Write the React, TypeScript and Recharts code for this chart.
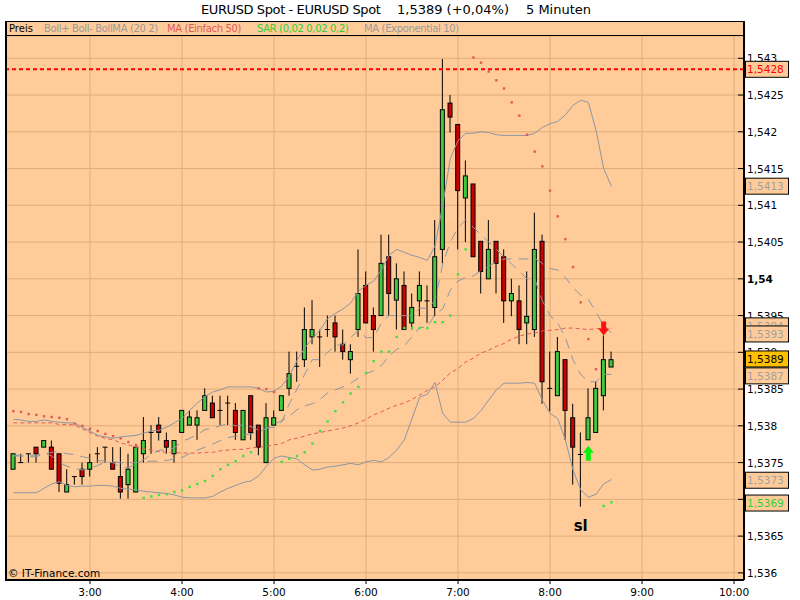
import React from 'react';
import {
  ComposedChart, XAxis, YAxis, CartesianGrid, Bar, Line, ReferenceLine, ReferenceDot,
} from 'recharts';

const FONT = '"DejaVu Sans", Verdana, sans-serif';
const BG = '#FFCC99';
const GRID = '#DFAC7A';
const GRAY = '#8C96A4';
const MA_RED = '#E05A5A';
const UP = '#3FC93F';
const DOWN = '#CC0000';

// 5-minute candles, minutes after midnight (2:10 .. 8:40)
const times = [
  130, 135, 140, 145, 150, 155, 160, 165, 170, 175,
  180, 185, 190, 195, 200, 205, 210, 215, 220, 225,
  230, 235, 240, 245, 250, 255, 260, 265, 270, 275,
  280, 285, 290, 295, 300, 305, 310, 315, 320, 325,
  330, 335, 340, 345, 350, 355, 360, 365, 370, 375,
  380, 385, 390, 395, 400, 405, 410, 415, 420, 425,
  430, 435, 440, 445, 450, 455, 460, 465, 470, 475,
  480, 485, 490, 495, 500, 505, 510, 515, 520,
];

const open = [
  1.53741, 1.5375, 1.53762, 1.53771, 1.53771, 1.53771, 1.53762, 1.5371, 1.53731, 1.53741,
  1.53741, 1.53762, 1.53771, 1.5375, 1.53731, 1.5372, 1.5371, 1.53762, 1.53791, 1.53801,
  1.5378, 1.53762, 1.53791, 1.53801, 1.53801, 1.53821, 1.53831, 1.53821, 1.53831, 1.53821,
  1.53781, 1.53841, 1.53801, 1.5375, 1.53801, 1.53821, 1.53851, 1.53881, 1.5389, 1.53921,
  1.53921, 1.53931, 1.5394, 1.53911, 1.5389, 1.53931, 1.53991, 1.5395, 1.5395, 1.5403,
  1.53971, 1.53991, 1.5394, 1.5397, 1.5397, 1.53961, 1.5404, 1.54239, 1.5421, 1.5411,
  1.54129, 1.54051, 1.54, 1.54051, 1.5403, 1.5397, 1.5397, 1.5394, 1.53931, 1.54051,
  1.53851, 1.53841, 1.5389, 1.53811, 1.53761, 1.53781, 1.53791, 1.53841, 1.5388,
];
const high = [
  1.53762, 1.53762, 1.53762, 1.53771, 1.5378, 1.5378, 1.53762, 1.53741, 1.53731, 1.5375,
  1.53762, 1.53771, 1.53771, 1.53771, 1.53771, 1.53762, 1.53771, 1.53812, 1.53801, 1.53812,
  1.53791, 1.5378, 1.53821, 1.53821, 1.53821, 1.53851, 1.53841, 1.53841, 1.53841, 1.53831,
  1.53821, 1.53841, 1.53801, 1.53831, 1.53821, 1.53841, 1.53901, 1.53901, 1.53961, 1.53971,
  1.53931, 1.5395, 1.5395, 1.53931, 1.53911, 1.5404, 1.5401, 1.53961, 1.5406, 1.5406,
  1.54021, 1.5401, 1.5398, 1.5401, 1.53991, 1.5408, 1.54299, 1.5425, 1.5421, 1.54161,
  1.54129, 1.54051, 1.5408, 1.54051, 1.5404, 1.54, 1.53991, 1.5401, 1.5409, 1.5406,
  1.53901, 1.53921, 1.5389, 1.5383, 1.53791, 1.53851, 1.5386, 1.53923, 1.53901,
];
const low = [
  1.53741, 1.5375, 1.5375, 1.5375, 1.53771, 1.53741, 1.5371, 1.5371, 1.5372, 1.5372,
  1.53731, 1.5375, 1.5375, 1.53741, 1.53701, 1.53701, 1.5371, 1.5375, 1.53762, 1.5378,
  1.53762, 1.5375, 1.53791, 1.53801, 1.53781, 1.53821, 1.53811, 1.53801, 1.53801, 1.53781,
  1.53781, 1.53781, 1.5376, 1.5375, 1.53801, 1.53821, 1.53841, 1.5386, 1.5388, 1.53911,
  1.5388, 1.53921, 1.53901, 1.5389, 1.53871, 1.53921, 1.5394, 1.53901, 1.5395, 1.5395,
  1.53931, 1.53931, 1.53931, 1.53949, 1.5394, 1.53949, 1.54021, 1.54199, 1.5404, 1.5405,
  1.5403, 1.5398, 1.54, 1.5398, 1.5394, 1.53949, 1.53911, 1.53911, 1.53921, 1.5383,
  1.5382, 1.53841, 1.53781, 1.5372, 1.5369, 1.53781, 1.53791, 1.53821, 1.5388,
];
const close = [
  1.53762, 1.5375, 1.53762, 1.53762, 1.5378, 1.53741, 1.53722, 1.5372, 1.53731, 1.53731,
  1.5375, 1.53762, 1.53771, 1.53741, 1.5371, 1.53741, 1.53771, 1.5378, 1.53791, 1.53791,
  1.53771, 1.5378, 1.53821, 1.53812, 1.53811, 1.53841, 1.53811, 1.53821, 1.53831, 1.53791,
  1.53821, 1.53791, 1.53771, 1.53811, 1.53811, 1.53841, 1.53871, 1.53881, 1.53931, 1.53931,
  1.53921, 1.53931, 1.53921, 1.53901, 1.53901, 1.5398, 1.5394, 1.53931, 1.54021, 1.5398,
  1.54, 1.53931, 1.53961, 1.53991, 1.5397, 1.5403, 1.5423, 1.5422, 1.5412, 1.5414,
  1.5403, 1.5401, 1.5404, 1.54021, 1.5397, 1.5398, 1.53931, 1.53949, 1.5404, 1.5386,
  1.53851, 1.53901, 1.53821, 1.53771, 1.53761, 1.53811, 1.53851, 1.5389, 1.5389,
];

const bollUpper = [
  1.53809, 1.53808, 1.53806, 1.53806, 1.53808, 1.53806, 1.53805, 1.53804, 1.53804, 1.53798,
  1.53793, 1.53787, 1.53785, 1.53783, 1.53785, 1.53786, 1.53787, 1.5379, 1.53793, 1.53794,
  1.53798, 1.53804, 1.5381, 1.53821, 1.53831, 1.5384, 1.53846, 1.53849, 1.53853, 1.53853,
  1.53853, 1.53853, 1.53851, 1.53846, 1.53847, 1.53854, 1.53868, 1.53889, 1.53906, 1.53919,
  1.5393, 1.53946, 1.53953, 1.53959, 1.53967, 1.53983, 1.53991, 1.53997, 1.54012, 1.54032,
  1.5404, 1.54036, 1.54032, 1.54029, 1.54025, 1.54045, 1.541, 1.54164, 1.54188, 1.54198,
  1.54198, 1.542, 1.54199, 1.54196, 1.54195, 1.54195, 1.54195, 1.54195, 1.54198, 1.54206,
  1.54211, 1.54214, 1.54223, 1.54236, 1.54243, 1.5424, 1.54202, 1.5415, 1.54126,
];
const bollLower = [
  1.53709, 1.53709, 1.53709, 1.53709, 1.53715, 1.53721, 1.53724, 1.53719, 1.53717, 1.53718,
  1.53718, 1.53719, 1.53719, 1.53718, 1.53715, 1.53714, 1.53713, 1.53711, 1.5371, 1.53709,
  1.53708, 1.53706, 1.53703, 1.53702, 1.53702, 1.53702, 1.53704, 1.5371, 1.53715, 1.53719,
  1.53723, 1.53725, 1.53732, 1.53745, 1.53756, 1.53759, 1.53757, 1.53755, 1.53747, 1.5374,
  1.53741, 1.53744, 1.53745, 1.53747, 1.53749, 1.53747, 1.53751, 1.53753, 1.53751, 1.53757,
  1.53767, 1.53781, 1.5381, 1.53839, 1.53843, 1.53859, 1.53817, 1.53805, 1.53805, 1.53805,
  1.5381, 1.53821, 1.53835, 1.53849, 1.53858, 1.53858, 1.53858, 1.53859, 1.53858, 1.53835,
  1.53817, 1.5381, 1.53781, 1.5374, 1.53713, 1.53703, 1.53707, 1.53721, 1.53727,
];
const bollMid = [
  1.53759, 1.53759, 1.53758, 1.53758, 1.53762, 1.53764, 1.53765, 1.53762, 1.53761, 1.53758,
  1.53756, 1.53753, 1.53752, 1.53751, 1.5375, 1.5375, 1.5375, 1.53751, 1.53752, 1.53752,
  1.53753, 1.53755, 1.53757, 1.53762, 1.53767, 1.53771, 1.53775, 1.5378, 1.53784, 1.53786,
  1.53788, 1.53789, 1.53792, 1.53796, 1.53802, 1.53807, 1.53813, 1.53822, 1.53827, 1.5383,
  1.53836, 1.53845, 1.53849, 1.53853, 1.53858, 1.53865, 1.53871, 1.53875, 1.53882, 1.53895,
  1.53904, 1.53909, 1.53921, 1.53934, 1.53934, 1.53952, 1.53959, 1.53985, 1.53997, 1.54002,
  1.54004, 1.54011, 1.54017, 1.54023, 1.54027, 1.54027, 1.54027, 1.54027, 1.54028, 1.54021,
  1.54014, 1.54012, 1.54002, 1.53988, 1.53978, 1.53972, 1.53955, 1.53936, 1.53927,
];
const ma50 = [
  1.53804, 1.53804, 1.53804, 1.53804, 1.53804, 1.53804, 1.53802, 1.53802, 1.53801, 1.53796,
  1.53791, 1.53786, 1.53783, 1.53781, 1.53777, 1.53774, 1.53771, 1.53769, 1.53767, 1.53765,
  1.53764, 1.53764, 1.53763, 1.53763, 1.53763, 1.53764, 1.53764, 1.53766, 1.53767, 1.53768,
  1.53768, 1.5377, 1.53771, 1.53772, 1.53774, 1.53776, 1.53781, 1.53783, 1.53786, 1.53789,
  1.53791, 1.53793, 1.53795, 1.53797, 1.538, 1.53804, 1.53809, 1.53815, 1.53819, 1.53824,
  1.53828, 1.53831, 1.53836, 1.53842, 1.53848, 1.53853, 1.53862, 1.53872, 1.53878, 1.53887,
  1.53892, 1.53899, 1.53903, 1.53908, 1.53912, 1.53918, 1.53922, 1.53925, 1.53926, 1.53929,
  1.5393, 1.53931, 1.53933, 1.53933, 1.53932, 1.53931, 1.53932, 1.53933, 1.53933,
];
const ema10 = [
  1.5376, 1.5376, 1.5376, 1.5376, 1.53763, 1.53759, 1.5375, 1.53745, 1.53742, 1.5374,
  1.53742, 1.53746, 1.53751, 1.5375, 1.53743, 1.53743, 1.53748, 1.53754, 1.53761, 1.53767,
  1.53767, 1.5377, 1.53779, 1.53783, 1.53788, 1.53795, 1.53797, 1.538, 1.53803, 1.538,
  1.53801, 1.53799, 1.53794, 1.53797, 1.53798, 1.53805, 1.5383, 1.5385, 1.5387, 1.5389,
  1.5389, 1.539, 1.5391, 1.5391, 1.5392, 1.5393, 1.5392, 1.5392, 1.5394, 1.5395,
  1.5395, 1.5395, 1.5395, 1.5396, 1.5396, 1.5397, 1.5402, 1.5405, 1.5407, 1.5408,
  1.5407, 1.5406, 1.5405, 1.5404, 1.5403, 1.5402, 1.5401, 1.54, 1.54, 1.5397,
  1.5395, 1.5394, 1.5392, 1.5389, 1.5387, 1.5386, 1.5386, 1.5387, 1.5387,
];

const gap = (n: number) => Array(n).fill(null);
// parabolic SAR above price (red) and below price (green)
const sarAbove = [
  1.5382, 1.53819, 1.53816, 1.53815, 1.53813, 1.53812, 1.53811, 1.53809, 1.53803, 1.538,
  1.53796, 1.53793, 1.53789, 1.53786, 1.53783, 1.53778, 1.53774,
  ...gap(15),
  1.53851, 1.5385, 1.53846,
  ...gap(25),
  1.54301, 1.54294, 1.54282, 1.5427, 1.54259, 1.5424, 1.54222, 1.54196, 1.54173, 1.54153,
  1.5412, 1.54085, 1.54054, 1.54016, 1.53968, 1.53918, 1.53877,
  ...gap(2),
];
const sarBelow = [
  ...gap(17),
  1.53702, 1.53704, 1.53706, 1.53707, 1.5371, 1.53712, 1.53717, 1.53721, 1.53725, 1.53732,
  1.53741, 1.53747, 1.53752, 1.53759, 1.53764,
  ...gap(3),
  1.53751, 1.53755, 1.53759, 1.53764, 1.53776, 1.53793, 1.53806, 1.5382, 1.53832, 1.53844,
  1.53853, 1.53872, 1.53888, 1.53901, 1.53901, 1.53921, 1.53933, 1.53933, 1.53933, 1.53933,
  1.53941, 1.53941, 1.5395, 1.54006, 1.5404,
  ...gap(17),
  1.53691, 1.53696,
];

const hourTicks = [180, 240, 300, 360, 420, 480, 540, 600];
const priceTicks = [
  1.536, 1.5365, 1.537, 1.5375, 1.538, 1.5385, 1.539, 1.5395,
  1.54, 1.5405, 1.541, 1.5415, 1.542, 1.5425, 1.543,
];
const resistance = 1.54285;

const priceTags = [
  { value: 1.54285, text: '1,5428', color: '#FF0000', fill: BG },
  { value: 1.54126, text: '1,5413', color: '#A0A0A0', fill: BG },
  { value: 1.53936, text: '1,5394', color: '#A0A0A0', fill: BG },
  { value: 1.53925, text: '1,5393', color: '#A0A0A0', fill: BG },
  { value: 1.53891, text: '1,5389', color: '#000000', fill: '#FFC000' },
  { value: 1.53868, text: '1,5387', color: '#A0A0A0', fill: BG },
  { value: 1.53726, text: '1,5373', color: '#A0A0A0', fill: BG },
  { value: 1.53695, text: '1,5369', color: '#33CC33', fill: BG },
];

const X_MIN = 125.2;
const X_MAX = 606.5;

const rows = times.map((t, i) => ({
  t,
  open: open[i],
  high: high[i],
  low: low[i],
  close: close[i],
  range: [low[i], high[i]],
  bollUpper: bollUpper[i],
  bollLower: bollLower[i],
  bollMid: bollMid[i],
  ma50: ma50[i],
  ema10: ema10[i],
  sarAbove: sarAbove[i],
  sarBelow: sarBelow[i],
}));

const Candle = (props: any) => {
  const { x, y, width, height, payload } = props;
  if (x == null || y == null) return null;
  const cx = x + width / 2;
  const span = payload.high - payload.low;
  const py = (v: number) => y + ((payload.high - v) / span) * height;
  const oy = py(payload.open);
  const cy = py(payload.close);
  const wick = <line x1={cx} x2={cx} y1={y} y2={y + height} stroke="#000" strokeWidth={1} />;
  if (payload.open === payload.close) {
    return (
      <g>
        {wick}
        <line x1={cx - 2.5} x2={cx + 2.5} y1={oy} y2={oy} stroke="#000" strokeWidth={1} />
      </g>
    );
  }
  const top = Math.min(oy, cy);
  const h = Math.max(Math.abs(oy - cy), 1);
  return (
    <g>
      {wick}
      <rect x={cx - 2} y={top} width={4} height={h}
        fill={payload.close > payload.open ? UP : DOWN} stroke="#000" strokeWidth={1} />
    </g>
  );
};

const sarDot = (color: string) => (p: any) => {
  const k = `s-${color}-${p.index}`;
  if (p.value == null || p.cy == null || Number.isNaN(p.cy)) return <g key={k} />;
  return <rect key={k} x={p.cx - 1.2} y={p.cy - 1.2} width={2.4} height={2.4} fill={color} />;
};

const YTick = (props: any) => {
  const { x, y, payload } = props;
  const v = payload.value;
  return (
    <g>
      <line x1={x - 6} x2={x} y1={y} y2={y} stroke="#000" strokeWidth={1} />
      <text x={x + 3} y={y} dy={4} fontSize={10.5} fontFamily={FONT}
        fontWeight={v === 1.54 ? 'bold' : 'normal'} fill="#000">
        {String(v).replace('.', ',')}
      </text>
    </g>
  );
};

const tagShape = (tag: { text: string; color: string; fill: string }) => (p: any) => (
  <g>
    <rect x={p.cx + 1.5} y={p.cy - 8} width={43} height={16} fill={tag.fill} stroke="#000" strokeWidth={1} />
    <text x={p.cx + 3} y={p.cy} dy={4} fontSize={10.5} fontFamily={FONT} fill={tag.color}>{tag.text}</text>
  </g>
);

const downArrow = (p: any) => (
  <polygon
    fill="#FF1010"
    points={`${p.cx - 2.5},${p.cy - 14} ${p.cx + 2.5},${p.cy - 14} ${p.cx + 2.5},${p.cy - 7} ${p.cx + 5.5},${p.cy - 7} ${p.cx},${p.cy} ${p.cx - 5.5},${p.cy - 7} ${p.cx - 2.5},${p.cy - 7}`}
  />
);
const upArrow = (p: any) => (
  <polygon
    fill="#10EE10"
    points={`${p.cx},${p.cy} ${p.cx + 5.5},${p.cy + 7} ${p.cx + 2.5},${p.cy + 7} ${p.cx + 2.5},${p.cy + 15} ${p.cx - 2.5},${p.cy + 15} ${p.cx - 2.5},${p.cy + 7} ${p.cx - 5.5},${p.cy + 7}`}
  />
);
const slText = (p: any) => (
  <text x={p.cx} y={p.cy} textAnchor="middle" fontSize={15} fontWeight="bold" fontFamily={FONT} fill="#000">sl</text>
);

const abs = (left: number, top: number, extra: React.CSSProperties = {}): React.CSSProperties => ({
  position: 'absolute', left, top, whiteSpace: 'pre', ...extra,
});

const titleStyle: React.CSSProperties = { fontSize: 13, lineHeight: '18px', color: '#000' };
const legendStyle: React.CSSProperties = { letterSpacing: '-0.35px' };

export default function App() {
  return (
    <div style={{ position: 'absolute', left: 0, top: 0, width: 800, height: 600, background: '#fff', fontFamily: FONT }}>
      <div style={{ position: 'absolute', left: 0, top: 0 }}>
        <ComposedChart width={800} height={600} data={rows} margin={{ top: 36, right: 0, bottom: 0, left: 6 }}>
          <CartesianGrid stroke={GRID} fill={BG} strokeWidth={1} />
          <XAxis dataKey="t" type="number" domain={[X_MIN, X_MAX]} allowDataOverflow ticks={hourTicks}
            interval={0} tickFormatter={(m: number) => `${m / 60}:00`} height={20}
            axisLine={{ stroke: '#000', strokeWidth: 2 }} tickLine={{ stroke: '#000' }} tickSize={4} tickMargin={5}
            tick={{ fill: '#000', fontSize: 10.5, fontFamily: FONT }} />
          <YAxis orientation="right" type="number" domain={[1.535903, 1.543303]} allowDataOverflow
            ticks={priceTicks} interval={0} width={56} tickLine={false} tickSize={0} tickMargin={0}
            axisLine={{ stroke: '#000', strokeWidth: 2 }} tick={<YTick />} />
          <ReferenceLine y={resistance} stroke="#FF0000" strokeWidth={2} strokeDasharray="4 3" />
          <Line dataKey="ma50" stroke={MA_RED} strokeWidth={1} strokeDasharray="4 3" dot={false} isAnimationActive={false} />
          <Line dataKey="bollUpper" stroke={GRAY} strokeWidth={1} dot={false} isAnimationActive={false} />
          <Line dataKey="bollLower" stroke={GRAY} strokeWidth={1} dot={false} isAnimationActive={false} />
          <Line dataKey="bollMid" stroke={GRAY} strokeWidth={1} strokeDasharray="10 7" dot={false} isAnimationActive={false} />
          <Line dataKey="ema10" stroke={GRAY} strokeWidth={1} strokeDasharray="10 7" dot={false} isAnimationActive={false} />
          <Line dataKey="sarAbove" stroke="none" dot={sarDot(MA_RED)} activeDot={false} isAnimationActive={false} />
          <Line dataKey="sarBelow" stroke="none" dot={sarDot('#44DD44')} activeDot={false} isAnimationActive={false} />
          <Bar dataKey="range" barSize={5} shape={<Candle />} isAnimationActive={false} />
          <ReferenceDot x={515} y={1.53923} ifOverflow="visible" shape={downArrow} />
          <ReferenceDot x={505} y={1.53773} ifOverflow="visible" shape={upArrow} />
          <ReferenceDot x={500} y={1.53657} ifOverflow="visible" shape={slText} />
          {priceTags.map((tag) => (
            <ReferenceDot key={tag.text + tag.value} x={X_MAX} y={tag.value} ifOverflow="visible"
              zIndex={2000} shape={tagShape(tag)} />
          ))}
        </ComposedChart>
      </div>

      <div style={abs(201, 1, { ...titleStyle, letterSpacing: '-0.4px' })}>EURUSD Spot - EURUSD Spot</div>
      <div style={abs(397, 1, titleStyle)}>1,5389 (+0,04%)</div>
      <div style={abs(526, 1, titleStyle)}>5 Minuten</div>

      <div style={abs(5, 21, {
        width: 740, height: 15, boxSizing: 'border-box', background: BG,
        borderTop: '1px solid #000', borderBottom: '1px solid #000', borderLeft: '2px solid #000', borderRight: '2px solid #000',
        fontSize: 10, lineHeight: '13px',
      })}>
        <span style={abs(2, 0, { color: '#000' })}>Preis</span>
        <span style={abs(37, 0, { color: '#9A9A9A', ...legendStyle })}>Boll+ Boll- BollMA (20 2)</span>
        <span style={abs(160, 0, { color: MA_RED, ...legendStyle })}>MA (Einfach 50)</span>
        <span style={abs(250, 0, { color: '#33CC33', ...legendStyle })}>SAR (0,02 0,02 0,2)</span>
        <span style={abs(357, 0, { color: '#9A9A9A', ...legendStyle })}>MA (Exponential 10)</span>
      </div>
      <div style={abs(5, 35, { width: 2, height: 546, background: '#000' })} />
      <div style={abs(8, 566, { fontSize: 10.5, lineHeight: '14px', color: '#000' })}>© IT-Finance.com</div>
    </div>
  );
}
